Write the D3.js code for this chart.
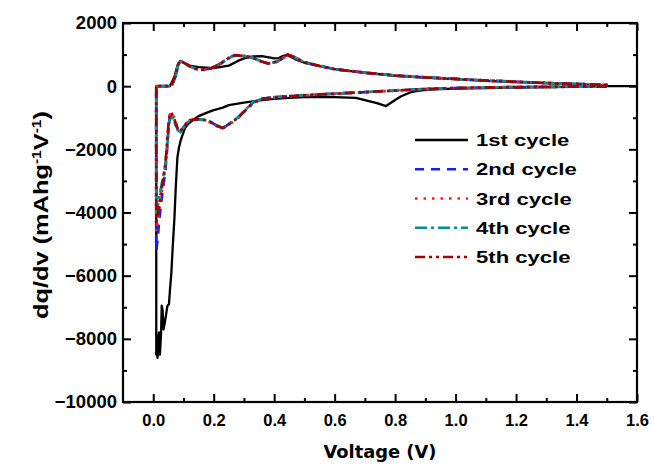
<!DOCTYPE html>
<html>
<head>
<meta charset="utf-8">
<script src="https://cdn.jsdelivr.net/npm/d3@7"></script>
<style>
  html, body { margin: 0; padding: 0; background: #fff; }
  svg { display: block; }
  .tick text { font-family: "Liberation Sans", Arial, sans-serif; font-weight: bold; fill: #000; }
</style>
</head>
<body>
<svg id="chart" width="654" height="469"></svg>
<script>
// ---------------- DATA ----------------
const xTicks = [0.0, 0.2, 0.4, 0.6, 0.8, 1.0, 1.2, 1.4, 1.6];
const xMinorTicks = [0.1, 0.3, 0.5, 0.7, 0.9, 1.1, 1.3, 1.5];
const yTicks = [2000, 0, -2000, -4000, -6000, -8000, -10000];
const yMinorTicks = [1000, -1000, -3000, -5000, -7000, -9000];
const seriesNames = ["1st cycle", "2nd cycle", "3rd cycle", "4th cycle", "5th cycle"];

// 1st cycle: [voltage (V), dq/dv]
const cycle1 = [
  [1.6,0],[1.5,0],[1.4,-20],[1.3,-30],[1.2,-45],[1.1,-60],[1.0,-80],[0.95,-95],[0.9,-120],
  [0.87,-160],[0.85,-200],[0.82,-320],[0.8,-440],[0.77,-630],[0.74,-540],[0.7,-440],[0.67,-370],
  [0.6,-350],[0.5,-350],[0.45,-370],[0.4,-400],[0.36,-440],[0.3,-520],[0.25,-600],[0.23,-680],
  [0.2,-760],[0.18,-830],[0.15,-950],[0.13,-1080],[0.115,-1200],[0.105,-1330],[0.095,-1600],
  [0.09,-1750],[0.085,-1950],[0.08,-2250],[0.075,-3100],[0.07,-4200],[0.065,-5000],[0.06,-5900],
  [0.055,-6500],[0.052,-6900],[0.047,-6950],[0.043,-7200],[0.038,-7500],[0.034,-7700],
  [0.031,-7100],[0.028,-6950],[0.026,-7800],[0.022,-8500],[0.019,-7800],[0.016,-8400],
  [0.014,-8600],[0.012,-7900],[0.01,-8500],[0.01,0],[0.03,0],[0.055,0],[0.07,300],[0.08,650],
  [0.09,790],[0.1,740],[0.12,650],[0.15,600],[0.2,570],[0.25,650],[0.28,800],[0.3,880],
  [0.33,940],[0.36,950],[0.4,880],[0.415,890],[0.43,960],[0.445,980],[0.47,850],[0.5,740],
  [0.55,640],[0.6,540],[0.7,420],[0.8,330],[0.9,270],[1.0,220],[1.1,170],[1.2,130],[1.3,95],
  [1.4,60],[1.5,20],[1.5,0]
];

// cycles 2-5 share voltage grids (discharge then charge)
const vDown = [1.5,1.4,1.3,1.2,1.1,1.0,0.9,0.8,0.7,0.6,
  0.5,0.45,0.4,0.36,0.33,0.3,0.28,0.25,0.23,0.21,
  0.18,0.15,0.12,0.1,0.09,0.08,0.07,0.06,0.055,0.05,
  0.045,0.04,0.03,0.02,0.015,0.01];
const vUp = [0.01,0.03,0.06,0.075,0.083,0.09,0.1,0.12,0.14,0.16,
  0.19,0.22,0.25,0.27,0.3,0.33,0.36,0.38,0.41,0.43,
  0.445,0.47,0.5,0.55,0.6,0.7,0.8,0.9,1.0,1.1,
  1.2,1.3,1.4,1.5,1.5];

const cycle2Down = [-10,-15,-20,-30,-40,-60,-90,-140,-190,-240,
  -290,-320,-350,-400,-520,-800,-1000,-1200,-1330,-1250,
  -1080,-1050,-1080,-1300,-1450,-1350,-1100,-900,-950,-1400,
  -2100,-2700,-3400,-4200,-4800,-5200];
const cycle2Up = [0,0,0,350,700,800,760,640,560,520,
  560,700,900,980,960,900,780,720,780,900,
  1010,900,760,640,540,430,340,280,230,180,
  140,100,70,40,0];

const cycle3Down = [-10,-15,-22,-30,-42,-60,-95,-140,-195,-245,
  -295,-325,-360,-410,-540,-820,-1020,-1220,-1340,-1260,
  -1090,-1040,-1070,-1280,-1420,-1300,-1020,-820,-900,-1300,
  -2000,-2600,-3200,-3900,-4300,-4600];
const cycle3Up = [0,0,0,360,710,790,750,630,550,515,
  555,690,890,970,955,890,770,715,775,895,
  1000,895,755,635,535,425,335,275,225,178,
  138,98,68,38,0];

const cycle4Down = [-10,-14,-20,-28,-40,-58,-88,-135,-185,-235,
  -285,-315,-345,-395,-510,-790,-990,-1190,-1320,-1240,
  -1070,-1050,-1090,-1320,-1460,-1380,-1150,-950,-980,-1450,
  -2050,-2500,-3000,-3500,-3800,-4000];
const cycle4Up = [0,0,0,340,690,780,745,635,555,520,
  560,695,895,975,958,895,775,718,778,898,
  1005,898,758,638,538,428,338,278,228,180,
  140,100,70,40,0];

const cycle5Down = [-10,-15,-21,-30,-41,-60,-92,-138,-190,-240,
  -290,-320,-352,-405,-530,-810,-1010,-1210,-1330,-1255,
  -1085,-1045,-1075,-1290,-1430,-1320,-1050,-840,-880,-1250,
  -1900,-2500,-3100,-3700,-4100,-4300];
const cycle5Up = [0,0,0,355,705,795,755,635,552,518,
  558,698,895,978,958,895,775,718,778,898,
  1005,898,758,638,538,428,338,278,228,179,
  139,99,69,39,0];

// ---------------- CHART ----------------
const svg = d3.select("#chart");
const plotLeft = 123, plotRight = 637, plotTop = 23, plotBottom = 402;

const x = d3.scaleLinear().domain([-0.1, 1.6]).range([plotLeft, plotRight]);
const y = d3.scaleLinear().domain([-10000, 2000]).range([plotBottom, plotTop]);

function combine(downI, upI) {
  return vDown.map((v, i) => [v, downI[i]]).concat(vUp.map((v, i) => [v, upI[i]]));
}

const series = [
  { name: seriesNames[0], data: cycle1, color: "#000000", dash: null, width: 2.3 },
  { name: seriesNames[1], data: combine(cycle2Down, cycle2Up), color: "#1a1aff", dash: "9,7", width: 2.7 },
  { name: seriesNames[2], data: combine(cycle3Down, cycle3Up), color: "#ff1a1a", dash: "2.5,6", width: 2.8 },
  { name: seriesNames[3], data: combine(cycle4Down, cycle4Up), color: "#009090", dash: "12,4,3,4", width: 2.7 },
  { name: seriesNames[4], data: combine(cycle5Down, cycle5Up), color: "#a00000", dash: "10,4,3,4,3,4", width: 2.7 }
];

const line = d3.line().x(d => x(d[0])).y(d => y(d[1]));

const gLines = svg.append("g");
series.forEach(s => {
  gLines.append("path")
    .datum(s.data)
    .attr("d", line)
    .attr("fill", "none")
    .attr("stroke", s.color)
    .attr("stroke-width", s.width)
    .attr("stroke-linejoin", "round")
    .attr("stroke-dasharray", s.dash);
});

// Axes (inward ticks on all four sides)
function styleAxis(g) {
  g.select(".domain").remove();
  g.selectAll(".tick line").attr("stroke", "#000").attr("stroke-width", 2);
}

svg.append("g").attr("transform", `translate(0,${plotBottom})`)
  .call(d3.axisBottom(x).tickValues(xTicks).tickSize(-8).tickPadding(12).tickFormat(d3.format(".1f")))
  .call(styleAxis)
  .call(g => g.selectAll(".tick text").style("font-size", "16.5px"));
svg.append("g").attr("transform", `translate(0,${plotBottom})`)
  .call(d3.axisBottom(x).tickValues(xMinorTicks).tickSize(-4).tickFormat(""))
  .call(styleAxis);
svg.append("g").attr("transform", `translate(0,${plotTop})`)
  .call(d3.axisTop(x).tickValues(xTicks).tickSize(-8).tickFormat(""))
  .call(styleAxis);
svg.append("g").attr("transform", `translate(0,${plotTop})`)
  .call(d3.axisTop(x).tickValues(xMinorTicks).tickSize(-4).tickFormat(""))
  .call(styleAxis);

svg.append("g").attr("transform", `translate(${plotLeft},0)`)
  .call(d3.axisLeft(y).tickValues(yTicks).tickSize(-8).tickPadding(6).tickFormat(d3.format("d")))
  .call(styleAxis)
  .call(g => g.selectAll(".tick text").style("font-size", "18.5px"));
svg.append("g").attr("transform", `translate(${plotLeft},0)`)
  .call(d3.axisLeft(y).tickValues(yMinorTicks).tickSize(-4).tickFormat(""))
  .call(styleAxis);
svg.append("g").attr("transform", `translate(${plotRight},0)`)
  .call(d3.axisRight(y).tickValues(yTicks).tickSize(-8).tickFormat(""))
  .call(styleAxis);
svg.append("g").attr("transform", `translate(${plotRight},0)`)
  .call(d3.axisRight(y).tickValues(yMinorTicks).tickSize(-4).tickFormat(""))
  .call(styleAxis);

// Frame
svg.append("rect")
  .attr("x", plotLeft).attr("y", plotTop)
  .attr("width", plotRight - plotLeft).attr("height", plotBottom - plotTop)
  .attr("fill", "none").attr("stroke", "#000").attr("stroke-width", 2.2);

// Axis titles
svg.append("text")
  .attr("transform", `translate(380,458) scale(1.05,1)`)
  .attr("text-anchor", "middle")
  .attr("font-family", "DejaVu Sans, sans-serif")
  .attr("font-weight", "bold")
  .attr("font-size", 17)
  .text("Voltage (V)");

const yt = svg.append("text")
  .attr("transform", `translate(48,215) rotate(-90) scale(1.3,1)`)
  .attr("text-anchor", "middle")
  .attr("font-family", "Liberation Sans, Arial, sans-serif")
  .attr("font-weight", "bold")
  .attr("font-size", 19.5);
yt.append("tspan").text("dq/dv (mAhg");
yt.append("tspan").attr("font-size", 12).attr("dy", -7).text("-1");
yt.append("tspan").attr("dy", 7).text("V");
yt.append("tspan").attr("font-size", 12).attr("dy", -7).text("-1");
yt.append("tspan").attr("dy", 7).text(")");

// Legend
const legend = svg.append("g");
const legendY = d3.scaleLinear().domain([0, 4]).range([140, 257]);
series.forEach((s, i) => {
  const ly = legendY(i);
  legend.append("line")
    .attr("x1", 415).attr("x2", 468).attr("y1", ly).attr("y2", ly)
    .attr("stroke", s.color).attr("stroke-width", 2.6)
    .attr("stroke-dasharray", s.dash);
  legend.append("text")
    .attr("transform", `translate(476,${ly + 6}) scale(1.3,1)`)
    .attr("font-family", "Liberation Sans, Arial, sans-serif")
    .attr("font-weight", "bold")
    .attr("font-size", 17)
    .text(s.name);
});
</script>
</body>
</html>
